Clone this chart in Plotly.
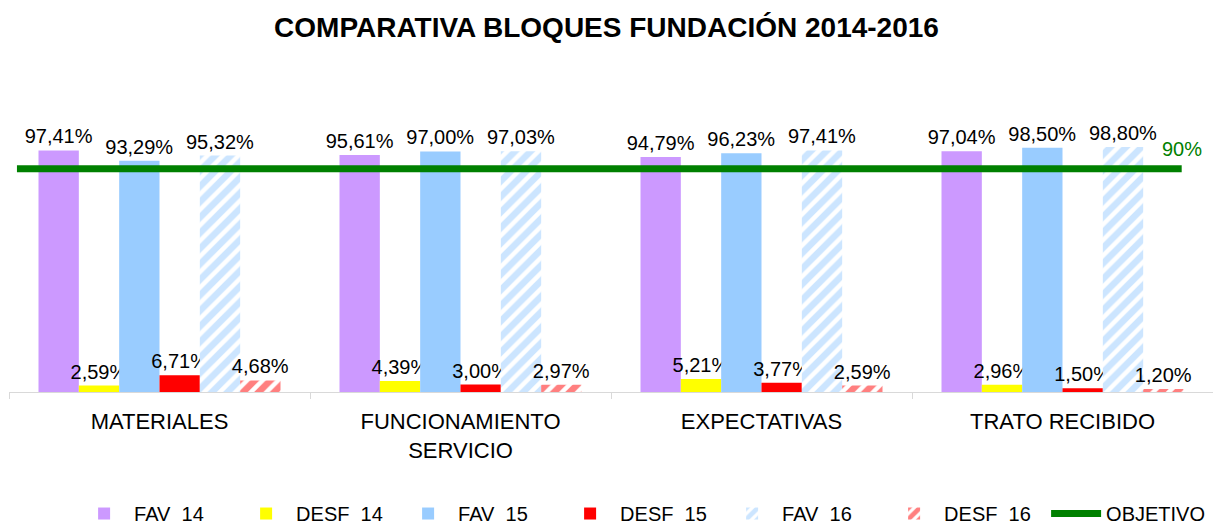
import plotly.graph_objects as go

categories = ["MATERIALES", "FUNCIONAMIENTO<br>SERVICIO", "EXPECTATIVAS", "TRATO RECIBIDO"]
fav14 = [97.41, 95.61, 94.79, 97.04]
desf14 = [2.59, 4.39, 5.21, 2.96]
fav15 = [93.29, 97.00, 96.23, 98.50]
desf15 = [6.71, 3.00, 3.77, 1.50]
fav16 = [95.32, 97.03, 97.41, 98.80]
desf16 = [4.68, 2.97, 2.59, 1.20]
objetivo = 90

series = [
    ("FAV\u00a0 14", fav14, "#CC99FF", None),
    ("DESF\u00a0 14", desf14, "#FFFF00", None),
    ("FAV\u00a0 15", fav15, "#99CCFF", None),
    ("DESF\u00a0 15", desf15, "#FF0000", None),
    ("FAV\u00a0 16", fav16, "#99CCFF", "/"),
    ("DESF\u00a0 16", desf16, "#FF0000", "/"),
]

FONT = "Liberation Sans, Arial, sans-serif"

def fmt(v):
    return f"{v:.2f}".replace(".", ",") + "%"

fig = go.Figure()
for name, vals, color, pat in series:
    if pat:
        marker = dict(color="white", line=dict(width=0),
                      pattern=dict(shape=pat, fgcolor=color, bgcolor="white",
                                   size=11, solidity=0.6, fillmode="overlay"))
    else:
        marker = dict(color=color, line=dict(width=0))
    fig.add_trace(go.Bar(
        name=name, x=categories, y=vals, marker=marker,
        text=[fmt(v) for v in vals], textposition="outside",
        textfont=dict(family=FONT, size=20, color="black"),
        cliponaxis=False, constraintext="none",
    ))

line_x = [0.0066, 0.974]
fig.add_trace(go.Scatter(
    name="OBJETIVO", x=line_x, y=[objetivo, objetivo],
    xaxis="x2", mode="lines",
    line=dict(color="#008000", width=7),
    cliponaxis=False,
))

fig.update_layout(
    width=1213, height=531,
    margin=dict(l=9, r=0, t=144, b=139, autoexpand=False),
    paper_bgcolor="white", plot_bgcolor="white",
    barmode="group", bargap=0.196, bargroupgap=0,
    font=dict(family=FONT, color="black"),
    title=dict(text="<b>COMPARATIVA BLOQUES FUNDACIÓN 2014-2016</b>",
               x=0.5, xref="container", xanchor="center",
               y=1 - 27 / 531, yref="container", yanchor="middle",
               font=dict(family=FONT, size=28, color="black")),
    xaxis=dict(showline=True, linecolor="#D9D9D9", linewidth=1,
               ticks="outside", tickson="boundaries", ticklen=6,
               tickcolor="#D9D9D9", showgrid=False, automargin=False,
               tickfont=dict(family=FONT, size=22, color="black"),
               ticklabelstandoff=10),
    xaxis2=dict(overlaying="x", range=[0, 1], visible=False),
    yaxis=dict(range=[0, 100], visible=False, showgrid=False, automargin=False),
    annotations=[dict(x=line_x[1], y=objetivo, xref="x2", yref="y",
                      text=f"{objetivo}%", showarrow=False, yshift=20,
                      xanchor="center", yanchor="middle",
                      font=dict(family=FONT, size=20, color="#008000"))],
    showlegend=True,
    legend=dict(orientation="h", x=0.525, xanchor="center",
                y=-0.49, yanchor="middle",
                font=dict(family=FONT, size=20, color="black"),
                itemwidth=50, entrywidth=97, tracegroupgap=0,
                traceorder="normal"),
)

fig.write_html("out.html", config={"displayModeBar": False},
               post_script="document.body.style.margin='0';")
